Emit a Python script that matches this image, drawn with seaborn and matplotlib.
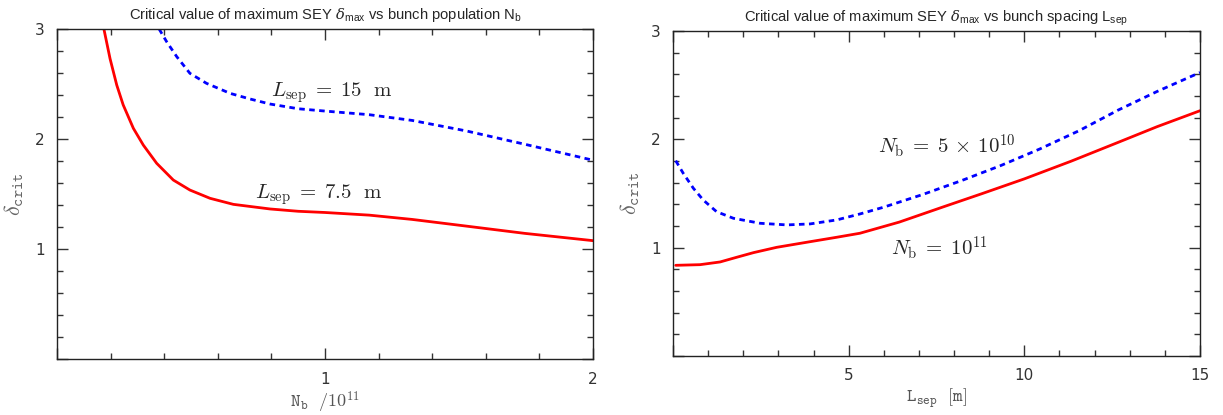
import numpy as np
import pandas as pd
import seaborn as sns
import matplotlib.pyplot as plt
from matplotlib.ticker import MultipleLocator, FuncFormatter

# left panel: delta_crit vs bunch population (units of 1e11)
nb_7p5 = [0.175, 0.198, 0.223, 0.247, 0.285, 0.322, 0.372, 0.434, 0.496, 0.571,
          0.658, 0.795, 0.90, 1.0, 1.165, 1.325, 1.528, 1.746, 2.0]
dcrit_7p5 = [3.0, 2.73, 2.49, 2.31, 2.097, 1.945, 1.779, 1.627, 1.536, 1.461,
             1.406, 1.364, 1.343, 1.332, 1.308, 1.269, 1.208, 1.142, 1.076]
nb_15 = [0.381, 0.409, 0.447, 0.496, 0.558, 0.646, 0.720, 0.795, 0.90, 1.0, 1.165,
         1.325, 1.528, 1.746, 2.0]
dcrit_15 = [3.0, 2.885, 2.748, 2.597, 2.506, 2.415, 2.364, 2.318, 2.275, 2.254,
            2.221, 2.169, 2.073, 1.952, 1.807]

# right panel: delta_crit vs bunch spacing [m]
lsep_1e11 = [0.077, 0.77, 1.34, 1.81, 2.29, 2.95, 3.90, 4.66, 5.32, 6.44, 7.67,
             8.78, 10.0, 11.33, 12.67, 13.78, 15.0]
dcrit_1e11 = [0.837, 0.843, 0.868, 0.911, 0.954, 1.003, 1.055, 1.096, 1.133, 1.236,
              1.374, 1.497, 1.635, 1.798, 1.972, 2.117, 2.264]
lsep_5e10 = [0.077, 0.29, 0.58, 0.86, 1.24, 1.72, 2.48, 3.24, 3.90, 4.66, 5.32,
             6.0, 7.11, 8.22, 9.33, 10.44, 11.56, 12.67, 13.78, 15.0]
dcrit_5e10 = [1.803, 1.687, 1.548, 1.440, 1.332, 1.271, 1.225, 1.210, 1.219, 1.256,
              1.311, 1.374, 1.491, 1.620, 1.758, 1.911, 2.080, 2.270, 2.442, 2.617]

sns.set_style("ticks")
plt.rcParams["font.family"] = ["DejaVu Sans"]
plt.rcParams["mathtext.fontset"] = "custom"
plt.rcParams["mathtext.rm"] = "Liberation Sans"
plt.rcParams["mathtext.it"] = "DejaVu Serif:italic"

fig = plt.figure(figsize=(12.23, 4.15), dpi=100)
ax1 = fig.add_axes([0.0466, 0.1349, 0.4383, 0.7952])
ax2 = fig.add_axes([0.5503, 0.1422, 0.4309, 0.7831])

red = "#ff0000"
blue = "#0000ff"
dash = (0, (2.0, 1.6))

sns.lineplot(x=nb_7p5, y=dcrit_7p5, ax=ax1, color=red, linewidth=2)
sns.lineplot(x=nb_15, y=dcrit_15, ax=ax1, color=blue, linewidth=2, linestyle=dash)
sns.lineplot(x=lsep_1e11, y=dcrit_1e11, ax=ax2, color=red, linewidth=2)
sns.lineplot(x=lsep_5e10, y=dcrit_5e10, ax=ax2, color=blue, linewidth=2, linestyle=dash)

hide0 = FuncFormatter(lambda v, p: "" if abs(v) < 1e-9 else f"{v:g}")

for ax, xmax, xmaj, xmin in [(ax1, 2, 1, 0.2), (ax2, 15, 5, 1)]:
    ax.set_xlim(0, xmax)
    ax.set_ylim(0, 3)
    ax.xaxis.set_major_locator(MultipleLocator(xmaj))
    ax.xaxis.set_minor_locator(MultipleLocator(xmin))
    ax.yaxis.set_major_locator(MultipleLocator(1))
    ax.yaxis.set_minor_locator(MultipleLocator(0.2))
    ax.xaxis.set_major_formatter(hide0)
    ax.yaxis.set_major_formatter(hide0)
    ax.tick_params(which="both", direction="in", top=True, right=True,
                   color="#333333", labelcolor="#333333", labelsize=11, width=1)
    ax.tick_params(which="major", length=8, pad=9)
    ax.tick_params(which="minor", length=4.5)
    for s in ax.spines.values():
        s.set_visible(True)
        s.set_color("#222222")
        s.set_linewidth(1)
    ax.set_ylabel(r"$\delta_{\mathtt{crit}}$", fontsize=16, color="#666666",
                  math_fontfamily="cm", labelpad=6)

ax1.set_xlabel(r"$\mathtt{N_b\ \ /10^{11}}$", fontsize=13, color="#555555",
               math_fontfamily="cm", labelpad=2)
ax2.set_xlabel(r"$\mathtt{L_{sep}\ \ [m]}$", fontsize=13, color="#555555",
               math_fontfamily="cm", labelpad=2)

ax1.set_title(r"Critical value of maximum SEY $\delta_{\rm max}$ vs bunch population N$_{\rm b}$",
              fontsize=10.6, family="Liberation Sans", pad=7)
ax2.set_title(r"Critical value of maximum SEY $\delta_{\rm max}$ vs bunch spacing L$_{\rm sep}$",
              fontsize=10.6, family="Liberation Sans", pad=7)

ax1.text(0.80, 2.42, r"$L_{\rm sep}\;=\;15\ \ {\rm m}$", fontsize=15,
         math_fontfamily="cm", va="center", ha="left")
ax1.text(0.737, 1.49, r"$L_{\rm sep}\;=\;7.5\ \ {\rm m}$", fontsize=15,
         math_fontfamily="cm", va="center", ha="left")
ax2.text(5.83, 1.94, r"$N_{\rm b}\;=\;5\,\times\,10^{10}$", fontsize=15,
         math_fontfamily="cm", va="center", ha="left")
ax2.text(6.2, 1.0, r"$N_{\rm b}\;=\;10^{11}$", fontsize=15,
         math_fontfamily="cm", va="center", ha="left")

fig.savefig("out.png", dpi=100)
